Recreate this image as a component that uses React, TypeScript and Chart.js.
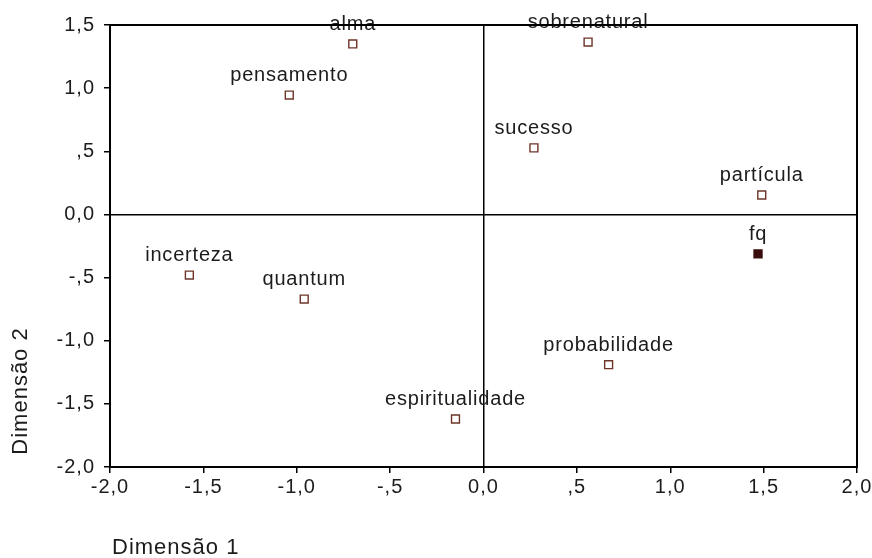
import React, { useEffect, useRef } from "react";
import { Chart, registerables } from "chart.js";

Chart.register(...registerables);

const categoryNames = [
  "alma",
  "pensamento",
  "sobrenatural",
  "sucesso",
  "partícula",
  "incerteza",
  "quantum",
  "probabilidade",
  "espiritualidade",
];
const dim1Values = [-0.7, -1.04, 0.56, 0.27, 1.49, -1.575, -0.96, 0.67, -0.15];
const dim2Values = [1.35, 0.945, 1.365, 0.527, 0.154, -0.48, -0.67, -1.19, -1.62];

const supplementaryNames = ["fq"];
const supplementaryDim1 = [1.47];
const supplementaryDim2 = [-0.313];

const xTickValues = [-2, -1.5, -1, -0.5, 0, 0.5, 1, 1.5, 2];
const xTickLabels = ["-2,0", "-1,5", "-1,0", "-,5", "0,0", ",5", "1,0", "1,5", "2,0"];
const yTickValues = [-2, -1.5, -1, -0.5, 0, 0.5, 1, 1.5];
const yTickLabels = ["-2,0", "-1,5", "-1,0", "-,5", "0,0", ",5", "1,0", "1,5"];

const xTitle = "Dimensão 1";
const yTitle = "Dimensão 2";

const FONT = '"Liberation Sans", Arial, sans-serif';
const TEXT = "#1c1c1c";

const spacingPlugin = {
  id: "spacing",
  beforeLayout(chart: any) {
    chart.ctx.letterSpacing = "1px";
  },
  beforeDraw(chart: any) {
    chart.ctx.letterSpacing = "1px";
  },
};

const decorPlugin = {
  id: "decor",
  afterDatasetsDraw(chart: any) {
    const ctx = chart.ctx;
    ctx.save();
    ctx.letterSpacing = "0.8px";
    ctx.font = `20px ${FONT}`;
    ctx.fillStyle = TEXT;
    ctx.textAlign = "center";
    ctx.textBaseline = "alphabetic";
    chart.data.datasets.forEach((ds: any, di: number) => {
      const meta = chart.getDatasetMeta(di);
      meta.data.forEach((pt: any, i: number) => {
        ctx.fillText(ds.pointNames[i], pt.x, pt.y - 14);
      });
    });
    ctx.restore();
  },
  afterDraw(chart: any) {
    const ctx = chart.ctx;
    const a = chart.chartArea;
    ctx.save();
    ctx.strokeStyle = "#000";
    ctx.lineWidth = 2;
    ctx.strokeRect(a.left, a.top, a.right - a.left, a.bottom - a.top);
    ctx.fillStyle = TEXT;
    ctx.letterSpacing = "1px";
    ctx.font = `22px ${FONT}`;
    ctx.textBaseline = "middle";
    ctx.textAlign = "left";
    ctx.fillText(xTitle, a.left + 2, 548);
    ctx.translate(21, 391);
    ctx.rotate(-Math.PI / 2);
    ctx.textAlign = "center";
    ctx.fillText(yTitle, 0, 0);
    ctx.restore();
  },
};

export default function App() {
  const ref = useRef<HTMLCanvasElement | null>(null);

  useEffect(() => {
    if (!ref.current) return;
    const zeroGrid = (c: any) => (c.tick && c.tick.value === 0 ? "#000" : "rgba(0,0,0,0)");
    const chart = new Chart(ref.current, {
      type: "scatter",
      data: {
        datasets: [
          {
            label: "categorias",
            data: dim1Values.map((x, i) => ({ x, y: dim2Values[i] })),
            pointNames: categoryNames,
            pointStyle: "rect",
            pointRadius: 5.6,
            pointHoverRadius: 5.6,
            pointBorderWidth: 1.4,
            pointBorderColor: "#6e3428",
            pointBackgroundColor: "#ffffff",
          } as any,
          {
            label: "fq",
            data: supplementaryDim1.map((x, i) => ({ x, y: supplementaryDim2[i] })),
            pointNames: supplementaryNames,
            pointStyle: "rect",
            pointRadius: 5.6,
            pointHoverRadius: 5.6,
            pointBorderWidth: 1.4,
            pointBorderColor: "#3a0c0c",
            pointBackgroundColor: "#3a0c0c",
          } as any,
        ],
      },
      options: {
        animation: false,
        responsive: false,
        devicePixelRatio: 1,
        layout: { padding: { left: 0, top: 25, right: 15, bottom: 0 } },
        plugins: {
          legend: { display: false },
          tooltip: { enabled: false },
          title: { display: false },
        },
        font: { family: FONT },
        scales: {
          x: {
            type: "linear",
            min: -2,
            max: 2,
            afterBuildTicks: (scale: any) => {
              scale.ticks = xTickValues.map((v) => ({ value: v }));
            },
            afterFit: (scale: any) => {
              scale.height = 91;
              scale.paddingLeft = 0;
              scale.paddingRight = 0;
              scale.paddingTop = 0;
              scale.paddingBottom = 0;
            },
            ticks: {
              autoSkip: false,
              maxRotation: 0,
              padding: 2,
              color: TEXT,
              font: { family: FONT, size: 20 },
              callback: (v: any) => xTickLabels[xTickValues.indexOf(Number(v))],
            },
            grid: {
              color: zeroGrid,
              lineWidth: 1.5,
              drawOnChartArea: true,
              drawTicks: true,
              tickLength: 6,
              tickColor: "#000",
              tickWidth: 1.5,
            },
            border: { display: true, color: "#000", width: 2 },
          },
          y: {
            type: "linear",
            min: -2,
            max: 1.5,
            afterBuildTicks: (scale: any) => {
              scale.ticks = yTickValues.map((v) => ({ value: v }));
            },
            afterFit: (scale: any) => {
              scale.width = 110;
              scale.paddingLeft = 0;
              scale.paddingRight = 0;
              scale.paddingTop = 0;
              scale.paddingBottom = 0;
            },
            ticks: {
              autoSkip: false,
              padding: 9,
              color: TEXT,
              font: { family: FONT, size: 20 },
              callback: (v: any) => yTickLabels[yTickValues.indexOf(Number(v))],
            },
            grid: {
              color: zeroGrid,
              lineWidth: 1.5,
              drawOnChartArea: true,
              drawTicks: true,
              tickLength: 6,
              tickColor: "#000",
              tickWidth: 1.5,
            },
            border: { display: true, color: "#000", width: 2 },
          },
        },
      } as any,
      plugins: [spacingPlugin, decorPlugin],
    });
    return () => chart.destroy();
  }, []);

  return (
    <div style={{ position: "absolute", left: 0, top: 0, width: 872, height: 558, background: "#fff" }}>
      <canvas ref={ref} width={872} height={558} style={{ display: "block" }} />
    </div>
  );
}
